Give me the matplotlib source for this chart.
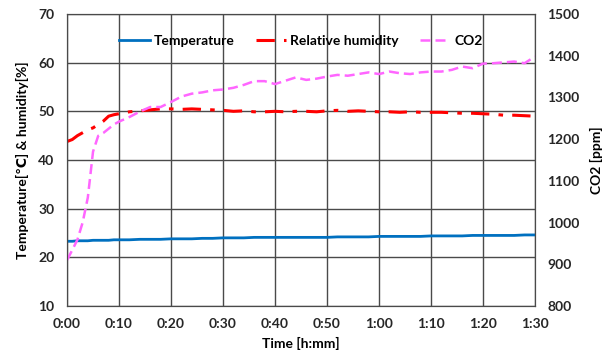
import matplotlib.pyplot as plt
from matplotlib.ticker import FuncFormatter
import numpy as np

plt.rcParams['font.family'] = ['Lato', 'DejaVu Sans']
plt.rcParams['font.weight'] = 'bold'

# time in minutes
minutes = [0, 1, 2, 3, 4, 5, 6, 7, 8, 9, 10, 12, 14, 16, 18, 20, 22, 24, 26, 28,
           30, 32, 34, 36, 38, 40, 42, 44, 46, 48, 50, 52, 54, 56, 58, 60, 62, 64,
           66, 68, 70, 72, 74, 76, 78, 80, 82, 84, 86, 88, 90]

temperature = [23.3, 23.3, 23.4, 23.4, 23.4, 23.5, 23.5, 23.5, 23.5, 23.6, 23.6,
               23.6, 23.7, 23.7, 23.7, 23.8, 23.8, 23.8, 23.9, 23.9, 24.0, 24.0,
               24.0, 24.1, 24.1, 24.1, 24.1, 24.1, 24.1, 24.1, 24.1, 24.2, 24.2,
               24.2, 24.2, 24.3, 24.3, 24.3, 24.3, 24.3, 24.4, 24.4, 24.4, 24.4,
               24.5, 24.5, 24.5, 24.5, 24.5, 24.6, 24.6]

humidity = [43.8, 44.2, 45.0, 45.6, 46.2, 46.6, 47.3, 48.0, 49.0, 49.3, 49.5,
            49.9, 50.1, 50.3, 50.5, 50.5, 50.4, 50.5, 50.4, 50.3, 50.2, 50.0,
            50.1, 49.9, 49.9, 50.0, 49.9, 50.0, 50.0, 49.9, 50.1, 50.2, 50.0,
            50.1, 50.0, 49.9, 49.9, 49.8, 49.9, 49.8, 49.8, 49.8, 49.7, 49.6,
            49.6, 49.5, 49.4, 49.2, 49.2, 49.1, 49.0]

co2 = [910, 934, 959, 1000, 1060, 1170, 1208, 1215, 1225, 1235, 1242,
       1253, 1266, 1277, 1277, 1289, 1302, 1309, 1312, 1317, 1319, 1323,
       1330, 1339, 1339, 1332, 1340, 1348, 1342, 1345, 1350, 1354, 1352,
       1356, 1360, 1356, 1362, 1358, 1356, 1360, 1362, 1362, 1366, 1374,
       1370, 1381, 1382, 1384, 1386, 1382, 1398]

x_ticks = list(range(0, 91, 10))

fig = plt.figure(figsize=(6.11, 3.54), dpi=100)
ax = fig.add_axes([0.1097, 0.1356, 0.7659, 0.8249])
ax2 = ax.twinx()

l1, = ax.plot(minutes, temperature, color='#0070C0', lw=2.0, label='Temperature')
l2, = ax.plot(minutes, humidity, color='#FF0000', lw=2.2, dashes=(6, 3, 1.5, 3),
              label='Relative humidity')
l3, = ax2.plot(minutes, co2, color='#FF66FF', lw=1.8, dashes=(4, 2),
               label='CO2')

ax.set_xlim(0, 90)
ax.set_ylim(10, 70)
ax2.set_ylim(800, 1500)
ax.set_xticks(x_ticks)
ax.xaxis.set_major_formatter(FuncFormatter(lambda v, p: f'{int(v)//60}:{int(v)%60:02d}'))
ax.set_yticks(range(10, 71, 10))
ax2.set_yticks(range(800, 1501, 100))

ax.grid(True, color='#4a4a4a', lw=1.0)
ax.set_axisbelow(True)
for a in (ax, ax2):
    a.tick_params(length=0, labelsize=10, pad=9, colors='#262626')
    for s in a.spines.values():
        s.set_color('#4a4a4a')

ax.set_xlabel('Time [h:mm]', fontsize=10, fontweight='bold', labelpad=5)
ax.set_ylabel('Temperature[℃] & humidity[%]', fontsize=10, fontweight='bold', labelpad=7)
ax2.set_ylabel('CO2 [ppm]', fontsize=10, fontweight='bold', labelpad=7)

leg = ax.legend(handles=[l1, l2, l3], loc='upper center', ncol=3, frameon=False,
                fontsize=10, bbox_to_anchor=(0.5, 0.97), handlelength=2.2,
                columnspacing=1.5, handletextpad=0.3)

fig.savefig('out.png', dpi=100)
